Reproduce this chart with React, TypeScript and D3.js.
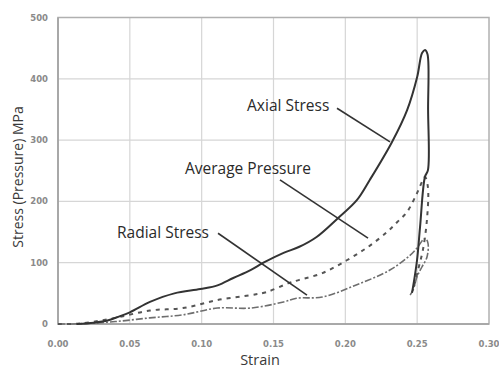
import React, { useEffect, useRef } from 'react';
import * as d3 from 'd3';

// strain / stress (MPa) pairs
const axialStrain = [0.013, 0.025, 0.035, 0.041, 0.05, 0.064, 0.081, 0.099, 0.111, 0.122, 0.134, 0.143, 0.157, 0.168, 0.18, 0.195, 0.208, 0.217, 0.2325, 0.243, 0.25, 0.2534, 0.2555, 0.2572, 0.2576, 0.2575, 0.2554, 0.252, 0.2499, 0.2471, 0.2464];
const axialStress = [0, 2, 6, 11, 19, 36, 50, 57, 63, 75, 88, 100, 116, 126, 142, 173, 202, 235, 297, 349, 403, 442, 447, 440, 350, 251, 240, 158, 104, 60, 51];

const avgStrain = [0, 0.01, 0.02, 0.04, 0.064, 0.087, 0.111, 0.134, 0.145, 0.161, 0.168, 0.184, 0.201, 0.216, 0.229, 0.236, 0.243, 0.25, 0.254, 0.2555, 0.2575, 0.2568, 0.254, 0.2506, 0.2471];
const avgStress = [0, 0, 2, 10, 22, 26, 39, 47, 52, 67, 72, 83, 104, 126, 150, 166, 183, 214, 235, 240, 223, 170, 121, 88, 55];

const radialStrain = [0, 0.01, 0.02, 0.04, 0.064, 0.087, 0.111, 0.134, 0.157, 0.166, 0.184, 0.208, 0.231, 0.245, 0.2499, 0.2554, 0.2575, 0.2568, 0.2533, 0.2499, 0.2471, 0.245];
const radialStress = [0, 0, 1, 4, 10, 15, 26, 26, 36, 42, 44, 64, 88, 112, 124, 140, 132, 109, 93, 77, 55, 47];

const xTicks = [0, 0.05, 0.1, 0.15, 0.2, 0.25, 0.3];
const yTicks = [0, 100, 200, 300, 400, 500];

// label text, label position, leader line start and end (data units)
const labelNames = ['Axial Stress', 'Average Pressure', 'Radial Stress'];
const labelAt = [[0.1316, 348], [0.0884, 245], [0.0411, 141]];
const leaderFrom = [[0.1942, 352], [0.1545, 235], [0.1114, 148]];
const leaderTo = [[0.2311, 297], [0.2158, 140], [0.1733, 47]];

function App() {
  const svgRef = useRef<SVGSVGElement>(null);

  useEffect(() => {
    const svg = d3.select(svgRef.current);
    svg.selectAll('*').remove();

    const x = d3.scaleLinear().domain([0, 0.3]).range([58, 489]);
    const y = d3.scaleLinear().domain([0, 500]).range([324, 17.5]);

    const g = svg.append('g');

    // grid
    g.selectAll('.vgrid')
      .data(xTicks.slice(1, -1))
      .enter()
      .append('line')
      .attr('x1', d => x(d)).attr('x2', d => x(d))
      .attr('y1', y(500)).attr('y2', y(0))
      .attr('stroke', '#d6d6d6').attr('stroke-width', 1.2);
    g.selectAll('.hgrid')
      .data(yTicks.slice(1, -1))
      .enter()
      .append('line')
      .attr('x1', x(0)).attr('x2', x(0.3))
      .attr('y1', d => y(d)).attr('y2', d => y(d))
      .attr('stroke', '#d6d6d6').attr('stroke-width', 1.2);

    // frame
    g.append('rect')
      .attr('x', x(0)).attr('y', y(500))
      .attr('width', x(0.3) - x(0)).attr('height', y(0) - y(500))
      .attr('fill', 'none').attr('stroke', '#b0b0b0').attr('stroke-width', 1.5);
    g.append('path')
      .attr('d', `M${x(0)},${y(500)}V${y(0)}H${x(0.3)}`)
      .attr('fill', 'none').attr('stroke', '#a0a0a0').attr('stroke-width', 1.5);

    // tick labels
    g.selectAll('.xt')
      .data(xTicks)
      .enter()
      .append('text')
      .attr('x', d => x(d)).attr('y', 347)
      .attr('text-anchor', 'middle')
      .attr('font-family', 'DejaVu Sans, sans-serif')
      .attr('font-size', 8.5).attr('font-weight', 'bold')
      .attr('fill', '#8a8a8a')
      .text(d => d.toFixed(2));
    g.selectAll('.yt')
      .data(yTicks)
      .enter()
      .append('text')
      .attr('x', 48).attr('y', d => y(d) + 3)
      .attr('text-anchor', 'end')
      .attr('font-family', 'DejaVu Sans, sans-serif')
      .attr('font-size', 8.5).attr('font-weight', 'bold')
      .attr('fill', '#8a8a8a')
      .text(d => d);

    // axis titles
    g.append('text')
      .attr('x', 260).attr('y', 365)
      .attr('text-anchor', 'middle')
      .attr('font-family', 'Open Sans, sans-serif')
      .attr('font-size', 14.5).attr('fill', '#3a3a3a')
      .text('Strain');
    g.append('text')
      .attr('transform', `translate(23,177) rotate(-90)`)
      .attr('text-anchor', 'middle')
      .attr('font-family', 'Open Sans, sans-serif')
      .attr('font-size', 14).attr('fill', '#3a3a3a')
      .text('Stress (Pressure) MPa');

    const line = d3.line<[number, number]>()
      .x(d => x(d[0]))
      .y(d => y(d[1]))
      .curve(d3.curveCatmullRom.alpha(0.5));

    const radial = radialStrain.map((s, i) => [s, radialStress[i]] as [number, number]);
    const avg = avgStrain.map((s, i) => [s, avgStress[i]] as [number, number]);
    const axial = axialStrain.map((s, i) => [s, axialStress[i]] as [number, number]);

    g.append('path').attr('d', line(radial))
      .attr('fill', 'none').attr('stroke', '#6e6e6e').attr('stroke-width', 1.6)
      .attr('stroke-dasharray', '7,2,2,2');
    g.append('path').attr('d', line(avg))
      .attr('fill', 'none').attr('stroke', '#555').attr('stroke-width', 2)
      .attr('stroke-dasharray', '4,5');
    g.append('path').attr('d', line(axial))
      .attr('fill', 'none').attr('stroke', '#333').attr('stroke-width', 2);

    // annotations
    labelNames.forEach((name, i) => {
      g.append('text')
        .attr('x', x(labelAt[i][0])).attr('y', y(labelAt[i][1]))
        .attr('font-family', 'Open Sans, sans-serif')
        .attr('font-size', 15.5).attr('fill', '#2a2a2a')
        .text(name);
      g.append('line')
        .attr('x1', x(leaderFrom[i][0])).attr('y1', y(leaderFrom[i][1]))
        .attr('x2', x(leaderTo[i][0])).attr('y2', y(leaderTo[i][1]))
        .attr('stroke', '#333').attr('stroke-width', 1.6);
    });
  }, []);

  return (
    <div style={{ position: 'fixed', left: 0, top: 0, width: 499, height: 369, background: '#fff' }}>
      <svg ref={svgRef} width={499} height={369}></svg>
    </div>
  );
}

export default App;
